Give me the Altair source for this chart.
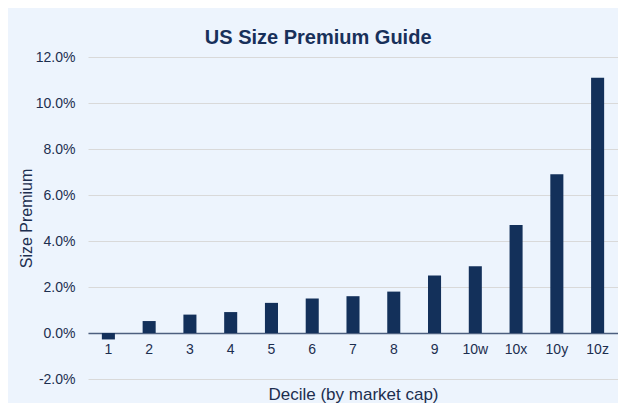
import altair as alt
import pandas as pd

deciles = ["1", "2", "3", "4", "5", "6", "7", "8", "9", "10w", "10x", "10y", "10z"]
premiums = [-0.0028, 0.0052, 0.0080, 0.0091, 0.0131, 0.0150, 0.0160, 0.0180, 0.0250, 0.0290, 0.0470, 0.0690, 0.1110]
y_ticks = [-0.02, 0.0, 0.02, 0.04, 0.06, 0.08, 0.10, 0.12]

df = pd.DataFrame({"decile": deciles, "premium": premiums})

navy = "#13305a"
text_col = "#1c2e4f"

chart = (
    alt.Chart(df)
    .mark_bar(color=navy)
    .encode(
        x=alt.X(
            "decile:N",
            sort=deciles,
            scale=alt.Scale(paddingInner=0.68, paddingOuter=0.34),
            axis=alt.Axis(
                title="Decile (by market cap)",
                labelAngle=0,
                offset=-46,
                ticks=False,
                domainColor="#4d5f7f",
                domainWidth=1.5,
                labelPadding=9,
                titlePadding=30,
                labelFontSize=14,
                titleFontSize=17,
                labelColor=text_col,
                titleColor=text_col,
                titleFontWeight="normal",
                labelFont="Liberation Sans",
                titleFont="Liberation Sans",
            ),
        ),
        y=alt.Y(
            "premium:Q",
            scale=alt.Scale(domain=[-0.02, 0.12], nice=False),
            axis=alt.Axis(
                title="Size Premium",
                values=y_ticks,
                labelExpr="replace(format(datum.value, '.1%'), '\u2212', '-')",
                ticks=False,
                domain=False,
                gridColor="#d9d9d9",
                gridWidth=1.2,
                labelPadding=13,
                titlePadding=1,
                labelFontSize=14,
                titleFontSize=16,
                labelColor=text_col,
                titleColor=text_col,
                titleFontWeight="normal",
                labelFont="Liberation Sans",
                titleFont="Liberation Sans",
            ),
        ),
    )
    .properties(
        width=530,
        height=322,
        title=alt.TitleParams(
            "US Size Premium Guide",
            fontSize=20,
            font="Liberation Sans",
            fontWeight="bold",
            color="#18305a",
            anchor="middle",
            frame="bounds",
            offset=2,
        ),
        autosize=alt.AutoSizeParams(type="none"),
        padding={"left": 80, "top": 49, "right": 0, "bottom": 24},
    )
    .configure(background="#edf4fd")
    .configure_view(stroke=None)
)

chart.save("out.html", embed_options={"renderer": "svg", "actions": False})
